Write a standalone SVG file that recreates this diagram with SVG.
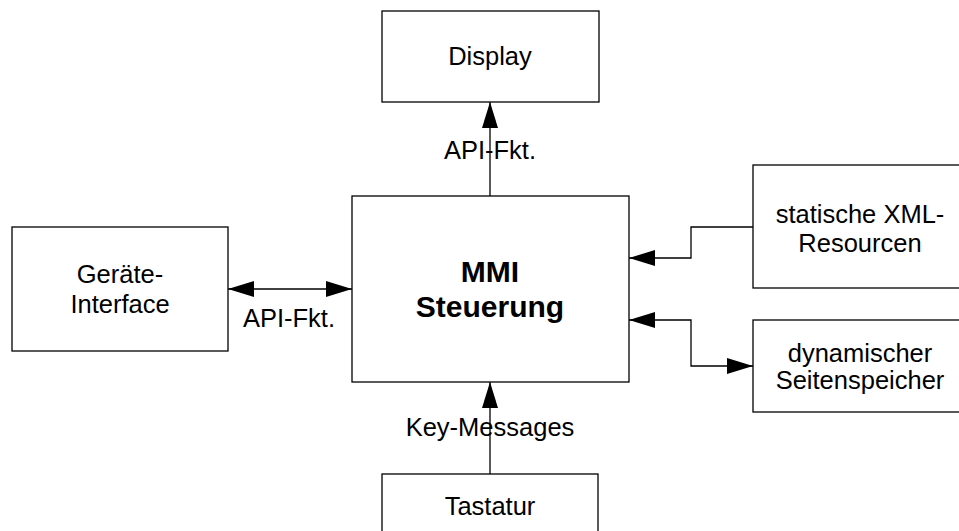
<svg xmlns="http://www.w3.org/2000/svg" width="959" height="531" viewBox="0 0 959 531">
<defs>
<marker id="ah" viewBox="0 0 26 16" refX="26" refY="8" markerWidth="26" markerHeight="16" markerUnits="userSpaceOnUse" orient="auto-start-reverse">
<path d="M0,0 L26,8 L0,16 Z" fill="#000"/>
</marker>
<style>
.box{fill:#fff;stroke:#000;stroke-width:1.3}
.t{font-family:"Liberation Sans",Arial,sans-serif;font-size:25.5px;fill:#000;text-anchor:middle}
.b{font-family:"Liberation Sans",Arial,sans-serif;font-size:30px;font-weight:bold;fill:#000;text-anchor:middle}
.c{fill:none;stroke:#000;stroke-width:1.3}
</style>
</defs>
<rect width="959" height="531" fill="#fff"/>
<g id="connectors">
<line class="c" x1="490" y1="196" x2="490" y2="102" marker-end="url(#ah)"/>
<line class="c" x1="228" y1="289" x2="352" y2="289" marker-start="url(#ah)" marker-end="url(#ah)"/>
<polyline class="c" points="753,227 691,227 691,258 629,258" marker-end="url(#ah)"/>
<polyline class="c" points="629,320 691,320 691,366 753,366" marker-start="url(#ah)" marker-end="url(#ah)"/>
<line class="c" x1="490" y1="474" x2="490" y2="382" marker-end="url(#ah)"/>
<text class="t" x="490" y="159">API-Fkt.</text>
<text class="t" x="289" y="327">API-Fkt.</text>
<text class="t" x="490" y="436">Key-Messages</text>
</g>
<g id="display">
<rect class="box" x="382" y="11" width="217" height="91"/>
<text class="t" x="490" y="65">Display</text>
</g>
<g id="mmi">
<rect class="box" x="352" y="196" width="277" height="186"/>
<text class="b" x="490" y="282">MMI</text>
<text class="b" x="490" y="317">Steuerung</text>
</g>
<g id="geraete">
<rect class="box" x="12" y="227" width="216" height="124"/>
<text class="t" x="120" y="283">Geräte-</text>
<text class="t" x="120" y="313">Interface</text>
</g>
<g id="statisch">
<rect class="box" x="753" y="165" width="214" height="123"/>
<text class="t" x="860" y="223">statische XML-</text>
<text class="t" x="860" y="252">Resourcen</text>
</g>
<g id="dynamisch">
<rect class="box" x="753" y="320" width="214" height="92"/>
<text class="t" x="860" y="362">dynamischer</text>
<text class="t" x="860" y="389">Seitenspeicher</text>
</g>
<g id="tastatur">
<rect class="box" x="382" y="474" width="216" height="91"/>
<text class="t" x="490" y="515">Tastatur</text>
</g>
</svg>
